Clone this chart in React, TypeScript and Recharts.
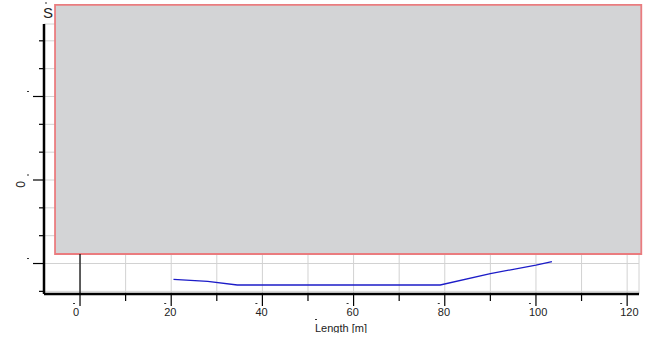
import React from "react"
import { LineChart, Line, XAxis, YAxis, CartesianGrid, ReferenceLine, ReferenceArea, Customized } from "recharts"

// profile along the length
const lengths = [20.5, 28, 34.5, 79, 90, 100, 103.5]
const levels = [-1.19, -1.215, -1.257, -1.257, -1.12, -1.02, -0.978]

const xTicks = [0, 10, 20, 30, 40, 50, 60, 70, 80, 90, 100, 110, 120]
const yTicks = [-4 / 3, -1, -2 / 3, -1 / 3, 0, 1 / 3, 2 / 3, 1, 4 / 3, 5 / 3]
const yMajor = [-1, 0, 1]
const yLabels: Record<string, string> = { "-1": "", "0": "0", "1": "" }

const xDomain = [-7.9, 122.6]
const yDomain = [-1.365, 1.868]

// overlay box (data units)
const boxX = [-5.48, 123.1]
const boxY = [-0.886, 2.096]

const data = lengths.map((x, i) => ({ x, y: levels[i] }))

const font = "'Liberation Sans', Arial, sans-serif"

function XTick(props: any) {
  const { x, y, payload } = props
  const v = payload.value
  const major = v % 20 === 0
  return (
    <g>
      <line x1={x} x2={x} y1={y} y2={y + (major ? 12 : 7)} stroke="#000" strokeWidth={1.2} />
      {major && (
        <>
          <line x1={x - 7} x2={x - 5} y1={y + 9.5} y2={y + 9.5} stroke="#333" strokeWidth={1} />
          <text x={x - 7} y={y + 22} fontSize={11} fill="#222" fontFamily={font} textAnchor="start">
            {v}
          </text>
        </>
      )}
    </g>
  )
}

function YTick(props: any) {
  const { x, y, payload } = props
  const v = payload.value
  const major = yMajor.some((m) => Math.abs(m - v) < 1e-6)
  const key = String(Math.round(v))
  return (
    <g>
      <line x1={x - (major ? 11 : 5)} x2={x} y1={y} y2={y} stroke="#000" strokeWidth={1.2} />
      {major && (
        <>
          <line x1={x - 17} x2={x - 15} y1={y - 5} y2={y - 5} stroke="#333" strokeWidth={1} />
          {yLabels[key] && (
            <text
              x={x - 19}
              y={y + 4.5}
              fontSize={12}
              fill="#222"
              fontFamily={font}
              textAnchor="middle"
              transform={`rotate(-90, ${x - 19}, ${y + 4.5})`}
            >
              {yLabels[key]}
            </text>
          )}
        </>
      )}
    </g>
  )
}

function Titles() {
  return (
    <g>
      <defs>
        <clipPath id="xtitleClip">
          <rect x={300} y={310} width={120} height={23} />
        </clipPath>
      </defs>
      <line x1={45} x2={47} y1={3} y2={3} stroke="#333" strokeWidth={1} />
      <text x={43} y={18} fontSize={15} fill="#222" fontFamily={font}>
        S
      </text>
      <line x1={315} x2={317} y1={319.5} y2={319.5} stroke="#333" strokeWidth={1} />
      <text x={315} y={332} fontSize={11} fill="#222" fontFamily={font} clipPath="url(#xtitleClip)">
        Length [m]
      </text>
    </g>
  )
}

export default function App() {
  return (
    <div style={{ position: "absolute", left: 0, top: 0 }}>
      <LineChart
        width={657}
        height={342}
        data={data}
        margin={{ top: 24, right: 18, left: 0, bottom: 0 }}
        style={{ fontFamily: font }}
      >
        <CartesianGrid stroke="#d2d2d2" strokeWidth={1} />
        <XAxis
          dataKey="x"
          type="number"
          domain={xDomain}
          ticks={xTicks}
          interval={0}
          height={48}
          tickSize={0}
          tickMargin={0}
          tickLine={false}
          axisLine={{ stroke: "#000", strokeWidth: 2.5 }}
          tick={<XTick />}
          allowDataOverflow
        />
        <YAxis
          type="number"
          domain={yDomain}
          ticks={yTicks}
          interval={0}
          width={44}
          tickSize={0}
          tickMargin={0}
          tickLine={false}
          axisLine={{ stroke: "#000", strokeWidth: 2.5 }}
          tick={<YTick />}
          allowDataOverflow
        />
        <ReferenceLine
          segment={[
            { x: 0, y: yDomain[0] },
            { x: 0, y: boxY[0] },
          ]}
          stroke="#000"
          strokeWidth={1.2}
        />
        <Line
          type="linear"
          dataKey="y"
          stroke="#1c1cc8"
          strokeWidth={1.3}
          dot={false}
          isAnimationActive={false}
        />
        <ReferenceArea
          x1={boxX[0]}
          x2={boxX[1]}
          y1={boxY[0]}
          y2={boxY[1]}
          ifOverflow="visible"
          fill="#d3d4d6"
          fillOpacity={1}
          stroke="#ea7c7f"
          strokeWidth={1.8}
        />
        <Customized component={<Titles />} />
      </LineChart>
    </div>
  )
}
